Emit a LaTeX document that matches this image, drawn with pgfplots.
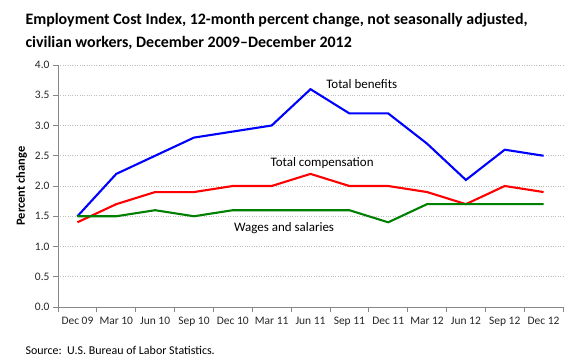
\documentclass[border=0pt]{standalone}
\usepackage{pgfplots}
\pgfplotsset{compat=1.18}
\usepackage{fontspec}
\setmainfont{Carlito}
\definecolor{axgray}{RGB}{134,134,134}
\definecolor{gridgray}{RGB}{190,190,190}
\definecolor{lblue}{RGB}{0,0,255}
\definecolor{lred}{RGB}{255,0,0}
\definecolor{lgreen}{RGB}{0,128,0}
\begin{document}
\begin{tikzpicture}[x=1bp,y=1bp]
\useasboundingbox (0,0) rectangle (580,363);
\node[anchor=west,font=\fontsize{16}{23}\selectfont\bfseries,align=left] at (22,331.5) {Employment Cost Index, 12-month percent change, not seasonally adjusted,\\civilian workers, December 2009--December 2012};
\node[anchor=west,font=\fontsize{12}{14}\selectfont] at (22,13) {Source:\ \ U.S. Bureau of Labor Statistics.};
\begin{axis}[
  at={(58bp,56bp)}, anchor=south west,
  scale only axis, width=505bp, height=242bp,
  xmin=-0.5, xmax=12.5, ymin=0, ymax=4,
  axis lines*=left,
  axis line style={axgray, line width=0.8pt, -},
  xtick={0,...,12},
  xticklabels={Dec 09,Mar 10,Jun 10,Sep 10,Dec 10,Mar 11,Jun 11,Sep 11,Dec 11,Mar 12,Jun 12,Sep 12,Dec 12},
  minor xtick={-0.5,0.5,...,12.5},
  major x tick style={draw=none},
  minor x tick style={axgray, line width=0.8pt},
  minor tick length=5bp,
  xtick align=outside,
  ytick={0,0.5,...,4},
  yticklabel style={/pgf/number format/.cd,fixed,fixed zerofill,precision=1},
  ytick align=outside,
  major tick length=5bp,
  ytick style={axgray, line width=0.8pt},
  ymajorgrids,
  grid style={gridgray, dotted, line width=0.6pt},
  tick label style={font=\fontsize{11.5}{13}\selectfont, text=black!85},
  /pgf/number format/assume math mode=true,
  ylabel={\bfseries Percent change},
  ylabel style={font=\fontsize{12.5}{14}\selectfont, at={(axis description cs:-0.072,0.5)}, anchor=center},
  xticklabel style={yshift=-2bp},
  clip=false,
]
\addplot[lblue, line width=2.1bp] coordinates {(0,1.5)(1,2.2)(2,2.5)(3,2.8)(4,2.9)(5,3.0)(6,3.6)(7,3.2)(8,3.2)(9,2.7)(10,2.1)(11,2.6)(12,2.5)};
\addplot[lred, line width=2.1bp] coordinates {(0,1.4)(1,1.7)(2,1.9)(3,1.9)(4,2.0)(5,2.0)(6,2.2)(7,2.0)(8,2.0)(9,1.9)(10,1.7)(11,2.0)(12,1.9)};
\addplot[lgreen, line width=2.1bp] coordinates {(0,1.5)(1,1.5)(2,1.6)(3,1.5)(4,1.6)(5,1.6)(6,1.6)(7,1.6)(8,1.4)(9,1.7)(10,1.7)(11,1.7)(12,1.7)};
\node[font=\fontsize{13}{15}\selectfont] at (axis cs:7.32,3.68) {Total benefits};
\node[font=\fontsize{13}{15}\selectfont] at (axis cs:6.3,2.38) {Total compensation};
\node[font=\fontsize{13}{15}\selectfont] at (axis cs:5.32,1.30) {Wages and salaries};
\end{axis}
\end{tikzpicture}
\end{document}
